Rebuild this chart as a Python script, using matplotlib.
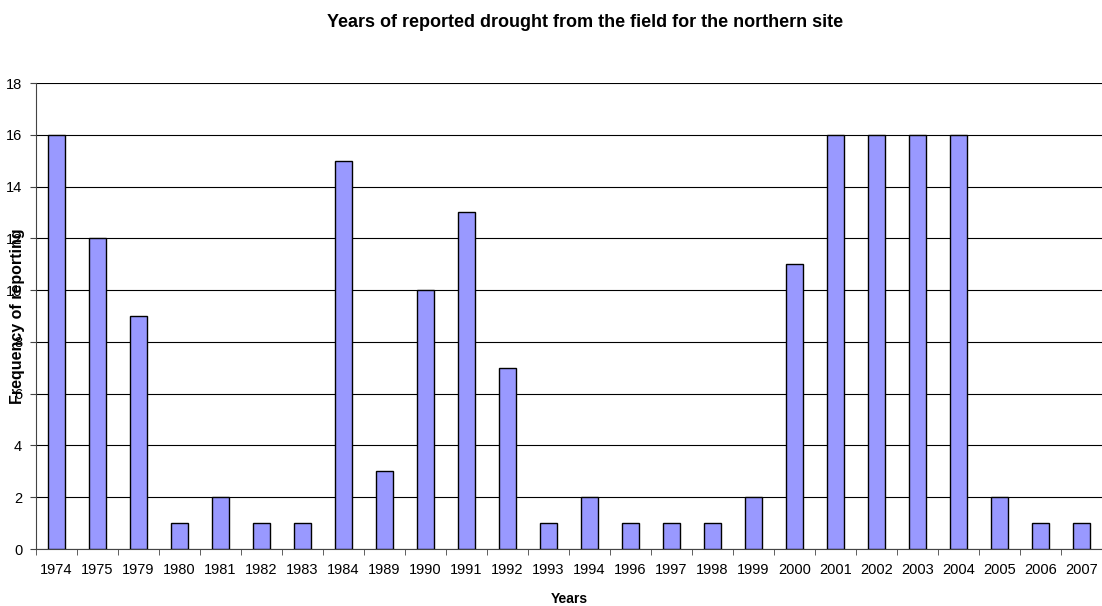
import matplotlib.pyplot as plt
import numpy as np

plt.rcParams['font.family'] = ['Liberation Sans', 'DejaVu Sans']

# Years with drought reports and how often each was reported
years = ['1974', '1975', '1979', '1980', '1981', '1982', '1983', '1984', '1989',
         '1990', '1991', '1992', '1993', '1994', '1996', '1997', '1998', '1999',
         '2000', '2001', '2002', '2003', '2004', '2005', '2006', '2007']
frequency = [16, 12, 9, 1, 2, 1, 1, 15, 3, 10, 13, 7, 1, 2, 1, 1, 1, 2,
             11, 16, 16, 16, 16, 2, 1, 1]

fig = plt.figure(figsize=(11.02, 6.06), dpi=100)
ax = fig.add_axes([0.0327, 0.094, 0.967, 0.769])

x = np.arange(len(years))
ax.bar(x, frequency, width=0.42, color='#9999FF', edgecolor='black',
       linewidth=1, zorder=3)

ax.set_ylim(0, 18)
ax.set_yticks(range(0, 19, 2))
ax.set_xlim(-0.5, len(years) - 0.5)
ax.set_xticks(x)
ax.set_xticklabels(years, fontsize=10.5)
ax.tick_params(axis='x', length=0, pad=10)
ax.set_xticks(np.arange(-0.5, len(years), 1), minor=True)
ax.tick_params(axis='x', which='minor', length=4, color='#444444')
ax.tick_params(axis='y', labelsize=10.5, length=4, color='#444444', pad=6)

ax.yaxis.grid(True, color='black', linewidth=0.8, zorder=0)
ax.spines['top'].set_visible(False)
ax.spines['right'].set_visible(False)
ax.spines['left'].set_color('#444444')
ax.spines['bottom'].set_color('#444444')

fig.text(0.531, 0.963, 'Years of reported drought from the field for the northern site',
         fontsize=13, fontweight='bold', ha='center', va='center')
ax.set_xlabel('Years', fontsize=10, fontweight='bold', labelpad=11)
ax.set_ylabel('Frequency of reporting', fontsize=11.5, fontweight='bold')
ax.yaxis.set_label_coords(-0.0103, 0.5)

fig.savefig('out.png', dpi=100)
